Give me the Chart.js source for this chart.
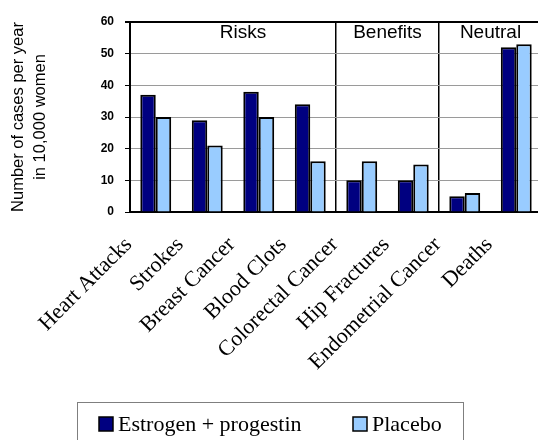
<!DOCTYPE html>
<html>
<head>
<meta charset="utf-8">
<script src="https://cdn.jsdelivr.net/npm/chart.js@4"></script>
<style>
  html, body { margin: 0; padding: 0; overflow: hidden; background: #ffffff; }
  #wrap { width: 546px; height: 440px; }
</style>
</head>
<body>
<div id="wrap"><canvas id="c" width="546" height="440"></canvas></div>
<script>
// Cases per year in 10,000 women
const categories = ['Heart Attacks', 'Strokes', 'Breast Cancer', 'Blood Clots',
  'Colorectal Cancer', 'Hip Fractures', 'Endometrial Cancer', 'Deaths'];
const estrogenProgestin = [37, 29, 38, 34, 10, 10, 5, 52];
const placebo = [30, 21, 30, 16, 16, 15, 6, 53];
const seriesNames = ['Estrogen + progestin', 'Placebo'];
const yTicks = [0, 10, 20, 30, 40, 50, 60];

// Outcome groups (first and last category index of each)
const groupNames = ['Risks', 'Benefits', 'Neutral'];
const groupFirst = [0, 4, 6];
const groupLast = [3, 5, 7];

const NAVY = '#000080';
const SKY = '#99ccff';

// Group headings at the top of the plot
const groupLabels = {
  id: 'groupLabels',
  afterDatasetsDraw(chart) {
    const { ctx, chartArea, scales: { x } } = chart;
    const half = (x.getPixelForValue(1) - x.getPixelForValue(0)) / 2;
    ctx.save();
    ctx.font = '19px "Liberation Sans", Arial, sans-serif';
    ctx.fillStyle = '#000';
    ctx.textAlign = 'center';
    ctx.textBaseline = 'middle';
    groupNames.forEach((name, i) => {
      const l = x.getPixelForValue(groupFirst[i]) - half;
      const r = x.getPixelForValue(groupLast[i]) + half;
      // the first heading sits a little right of its span's centre
      const cx = i === 0 ? (l + r) / 2 + 10 : (l + r) / 2;
      ctx.fillText(name, cx, chartArea.top + 11);
    });
    ctx.restore();
  }
};

// Boxed legend below the category labels
const boxedLegend = {
  id: 'boxedLegend',
  afterDraw(chart) {
    const { ctx } = chart;
    const ds = chart.data.datasets;
    const boxL = 77, boxR = 463, boxT = 402, rowY = 424;
    const itemX = [99, 353];
    ctx.save();
    ctx.strokeStyle = '#7f7f7f';
    ctx.lineWidth = 1;
    ctx.strokeRect(boxL + 0.5, boxT + 0.5, boxR - boxL, 60);
    ctx.font = '22px "Liberation Serif", "Times New Roman", serif';
    ctx.textBaseline = 'middle';
    ctx.textAlign = 'left';
    ds.forEach((d, i) => {
      const sx = itemX[i];
      ctx.fillStyle = d.backgroundColor;
      ctx.fillRect(sx, rowY - 7, 14, 14);
      ctx.strokeStyle = '#000';
      ctx.lineWidth = 1.5;
      ctx.strokeRect(sx, rowY - 7, 14, 14);
      ctx.fillStyle = '#000';
      ctx.fillText(d.label, sx + 19, rowY + 1);
    });
    ctx.restore();
  }
};

new Chart(document.getElementById('c'), {
  type: 'bar',
  data: {
    labels: categories,
    datasets: [
      { label: seriesNames[0], data: estrogenProgestin, backgroundColor: NAVY,
        borderColor: '#000', borderWidth: 2 },
      { label: seriesNames[1], data: placebo, backgroundColor: SKY,
        borderColor: '#000', borderWidth: 2 }
    ]
  },
  options: {
    responsive: false,
    animation: false,
    layout: { padding: { top: 22, right: 4, bottom: 0, left: 0 } },
    datasets: { bar: { categoryPercentage: 0.6, barPercentage: 1.0 } },
    plugins: { legend: { display: false }, tooltip: { enabled: false } },
    scales: {
      x: {
        offset: true,
        afterFit(s) { s.height = 228; s.paddingLeft = 0; s.paddingRight = 0; },
        grid: {
          offset: true,
          drawTicks: false,
          color: c => (c.index === 4 || c.index === 6) ? '#000' : 'rgba(0,0,0,0)',
          lineWidth: 1.5
        },
        border: { display: true, color: '#000', width: 2 },
        ticks: {
          autoSkip: false,
          minRotation: 45,
          maxRotation: 45,
          padding: 20,
          labelOffset: -27,
          color: '#000',
          font: { family: '"Liberation Serif", "Times New Roman", serif', size: 22 }
        }
      },
      y: {
        min: 0,
        max: 60,
        afterFit(s) { s.width = 130; },
        afterBuildTicks(s) { s.ticks = yTicks.map(v => ({ value: v })); },
        grid: {
          color: c => (c.tick && (c.tick.value === 60 || c.tick.value === 0)) ? '#000' : '#9a9a9a',
          lineWidth: c => (c.tick && c.tick.value === 60) ? 2 : 1,
          tickColor: '#000',
          tickLength: 5
        },
        border: { display: true, color: '#000', width: 2 },
        ticks: {
          padding: 11,
          color: '#000',
          font: { family: '"Liberation Sans", Arial, sans-serif', size: 12, weight: 'bold' }
        },
        title: {
          display: true,
          text: ['Number of cases per year', 'in 10,000 women'],
          color: '#000',
          font: { family: '"Liberation Sans", Arial, sans-serif', size: 16.5, lineHeight: 1.35 },
          padding: { top: 7, bottom: 0 }
        }
      }
    }
  },
  plugins: [groupLabels, boxedLegend]
});
</script>
</body>
</html>
